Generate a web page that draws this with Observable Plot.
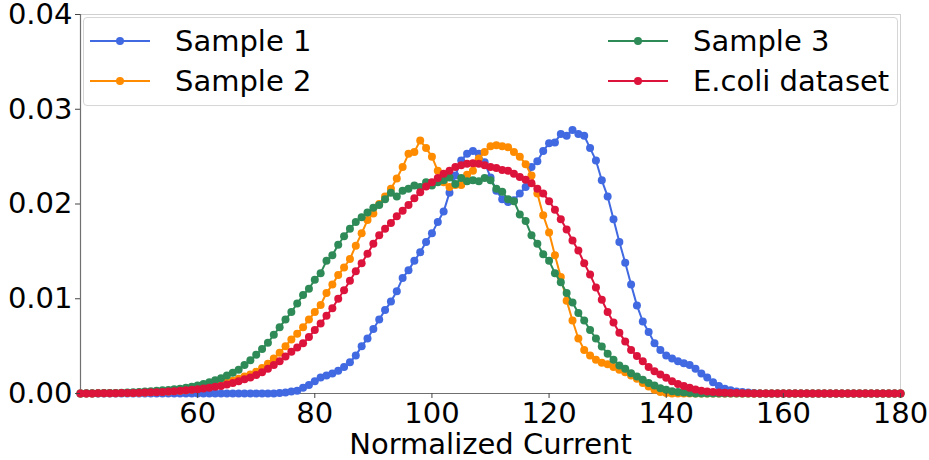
<!DOCTYPE html>
<html>
<head>
<meta charset="utf-8">
<script src="https://cdn.jsdelivr.net/npm/d3@7"></script>
<script src="https://cdn.jsdelivr.net/npm/@observablehq/plot@0.6"></script>
<style>
  html, body { margin: 0; padding: 0; background: #fff; }
  #wrap { position: relative; width: 929px; height: 460px; font-family: "DejaVu Sans", sans-serif; }
  #legend { position: absolute; left: 83px; top: 17px; width: 815px; height: 89px;
            border: 1px solid #d6d6d6; border-radius: 4px; background: rgba(255,255,255,0.85);
            box-sizing: border-box; font-size: 29px; color: #000; }
  .item { position: absolute; height: 34px; display: flex; align-items: center; white-space: nowrap; }
  .item svg { margin-right: 25px; }
</style>
</head>
<body>
<div id="wrap"><div id="legend"></div></div>
<script>
// Sample grid: normalized current from 40 to 180, step 1
const xStart = 40, xEnd = 180, xStep = 1;
// Densities in thousandths (×1e-3)
const UNIT = 1e-3;
const sample1 = [
  0,0,0,0,0,0,0,0,0,0,
  0,0,0,0,0,0,0,0,0,0,
  0,0,0,0,0,0,0,0,0,0,
  0,0,0,0,0.05,0.1,0.2,0.3,0.6,0.9,
  1.3,1.7,1.9,2.1,2.4,2.8,3.3,4.0,5.0,5.8,
  6.8,7.8,8.8,9.7,10.8,12.2,13.0,14.0,14.9,16.0,
  16.9,18.1,19.2,21.2,23.0,24.6,25.3,25.6,25.3,24.4,
  22.8,21.4,20.5,20.2,20.4,21.1,21.8,23.9,24.5,25.6,
  26.4,26.5,27.4,27.2,27.8,27.4,27.2,25.9,24.6,22.5,
  20.8,18.4,16.0,13.8,11.5,9.3,7.6,6.5,5.3,4.6,
  4.0,3.7,3.4,3.2,3.0,2.6,2.1,1.7,1.2,0.8,
  0.5,0.35,0.2,0.15,0.1,0.05,0,0,0,0,
  0,0,0,0,0,0,0,0,0,0,
  0,0,0,0,0,0,0,0,0,0,
  0
];
const sample2 = [
  0.01,0.01,0.01,0.02,0.02,0.03,0.03,0.04,0.05,0.06,
  0.08,0.1,0.12,0.15,0.18,0.22,0.26,0.3,0.35,0.42,
  0.5,0.6,0.7,0.8,1.0,1.15,1.35,1.55,1.8,2.0,
  2.3,2.7,3.15,3.7,4.3,5.0,5.7,6.3,7.0,7.8,
  8.6,9.35,10.6,11.5,12.5,13.3,14.2,15.6,16.9,18.3,
  19.0,20.0,20.8,21.6,22.7,23.9,25.3,25.5,26.7,25.9,
  25.0,23.5,22.3,21.8,22.0,22.0,23.1,23.5,24.8,25.5,
  26.1,26.2,26.1,26.0,25.5,25.0,24.2,23.0,21.1,18.8,
  17.0,14.6,12.3,9.8,7.7,5.8,4.6,4.0,3.55,3.25,
  3.1,2.8,2.5,2.25,1.9,1.55,1.1,0.75,0.4,0.15,
  0.05,0,0,0,0,0,0,0,0,0,
  0,0,0,0,0,0,0,0,0,0,
  0,0,0,0,0,0,0,0,0,0,
  0,0,0,0,0,0,0,0,0,0,
  0
];
const sample3 = [
  0.01,0.02,0.02,0.03,0.04,0.05,0.06,0.08,0.1,0.13,
  0.16,0.2,0.23,0.28,0.33,0.38,0.44,0.5,0.6,0.7,
  0.85,1.0,1.2,1.4,1.6,1.9,2.2,2.5,3.0,3.5,
  4.1,4.7,5.35,6.2,7.0,7.8,8.6,9.5,10.4,11.05,
  12.0,12.7,14.0,14.6,15.7,16.6,17.4,18.1,18.6,19.1,
  19.6,19.9,20.5,21.2,20.8,21.4,21.6,21.95,21.8,22.3,
  21.95,22.3,22.5,22.8,22.1,22.75,22.4,22.5,22.4,22.75,
  22.5,21.6,21.3,20.5,20.3,18.9,18.2,16.7,15.8,14.7,
  14.0,12.7,11.75,10.6,9.6,8.5,7.7,6.7,5.8,4.95,
  4.2,3.55,2.95,2.6,2.15,1.8,1.45,1.1,0.85,0.55,
  0.4,0.25,0.15,0.1,0.05,0,0,0,0,0,
  0,0,0,0,0,0,0,0,0,0,
  0,0,0,0,0,0,0,0,0,0,
  0,0,0,0,0,0,0,0,0,0,
  0
];
const ecoli = [
  0.01,0.01,0.01,0.02,0.02,0.03,0.03,0.04,0.05,0.06,
  0.08,0.1,0.12,0.14,0.17,0.2,0.25,0.3,0.34,0.4,
  0.45,0.52,0.6,0.7,0.8,0.95,1.1,1.3,1.5,1.7,
  1.95,2.25,2.6,3.0,3.4,3.9,4.4,4.85,5.3,5.95,
  6.7,7.4,8.2,9.0,10.0,10.9,11.9,12.9,13.75,14.75,
  15.8,16.7,17.4,18.0,18.7,19.3,19.9,20.6,21.25,21.85,
  22.3,22.75,23.2,23.5,23.9,24.1,24.25,24.3,24.25,24.1,
  23.9,23.8,23.6,23.5,23.2,22.85,22.55,22.2,21.6,21.1,
  20.3,19.4,18.4,17.3,16.15,15.1,13.75,12.55,11.2,9.9,
  8.6,7.5,6.4,5.5,4.6,3.95,3.4,2.8,2.35,2.0,
  1.65,1.3,1.0,0.8,0.6,0.42,0.3,0.2,0.15,0.1,
  0.08,0.05,0.04,0.03,0.02,0.01,0,0,0,0,
  0,0,0,0,0,0,0,0,0,0,
  0,0,0,0,0,0,0,0,0,0,
  0
];
const seriesNames = ["Sample 1", "Sample 2", "Sample 3", "E.coli dataset"];
const seriesColors = ["#4169e1", "#ff8c00", "#2e8b57", "#dc143c"];
const seriesValues = [sample1, sample2, sample3, ecoli];
const xTicks = [60, 80, 100, 120, 140, 160, 180];
const yTicks = [0, 0.01, 0.02, 0.03, 0.04];
const xLabel = "Normalized Current";

const xs = d3.range(xStart, xEnd + xStep / 2, xStep);
const tables = seriesValues.map((vals, s) =>
  vals.map((v, i) => ({ x: xs[i], y: v * UNIT, series: seriesNames[s] })));

const marks = [
  Plot.frame({ stroke: "#d0d0d0" }),
  Plot.ruleY([yTicks[0]], { stroke: "#707070", strokeWidth: 1.2 }),
  Plot.ruleX([xStart], { stroke: "#707070", strokeWidth: 1.2 })
];
tables.forEach((t, s) => {
  marks.push(Plot.line(t, { x: "x", y: "y", stroke: seriesColors[s], strokeWidth: 2 }));
  marks.push(Plot.dot(t, { x: "x", y: "y", fill: seriesColors[s], r: 4, stroke: "none" }));
});
marks.push(
  Plot.axisX({ ticks: xTicks, tickSize: 5, tickPadding: 4, label: xLabel, labelAnchor: "center",
               labelArrow: "none", labelOffset: 60, stroke: "#444" }),
  Plot.axisY({ ticks: yTicks, tickFormat: d3.format(".2f"), tickSize: 5, tickPadding: 3, label: null, stroke: "#444" })
);

const chart = Plot.plot({
  width: 929, height: 460,
  marginLeft: 80, marginRight: 29, marginTop: 14, marginBottom: 67,
  x: { domain: [xStart, xEnd] },
  y: { domain: [yTicks[0], yTicks[yTicks.length - 1]] },
  style: { fontFamily: "DejaVu Sans, sans-serif", fontSize: "29px", color: "#000", background: "#fff", overflow: "visible" },
  marks
});
const wrap = document.getElementById("wrap");
wrap.insertBefore(chart, wrap.firstChild);

// Legend (two columns, drawn inside plot area like the original)
const legend = document.getElementById("legend");
const colLeft = [6, 524], rowTop = [6, 46];
seriesNames.forEach((name, i) => {
  const col = Math.floor(i / 2), row = i % 2;
  const item = document.createElement("div");
  item.className = "item";
  item.style.left = colLeft[col] + "px";
  item.style.top = rowTop[row] + "px";
  item.innerHTML = `<svg width="60" height="34"><line x1="0" x2="60" y1="17" y2="17" stroke="${seriesColors[i]}" stroke-width="2"/><circle cx="30" cy="17" r="4" fill="${seriesColors[i]}"/></svg><span>${name}</span>`;
  legend.appendChild(item);
});
</script>
</body>
</html>
